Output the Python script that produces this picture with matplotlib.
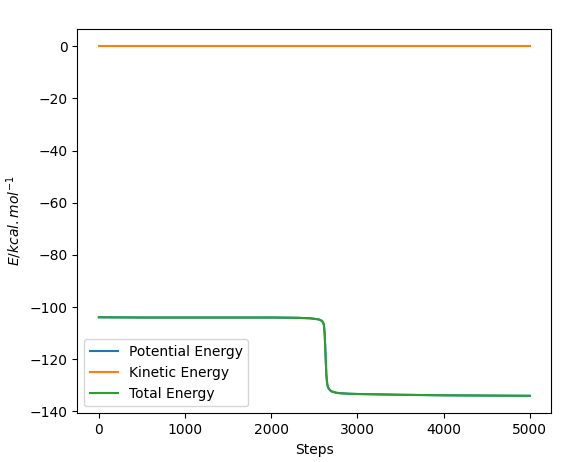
import numpy as np
import matplotlib
matplotlib.use("Agg")
import matplotlib.pyplot as plt

# values
steps = [0, 500, 1000, 1500, 2000, 2300, 2450, 2550, 2590, 2610, 2620,
         2630, 2640, 2650, 2660, 2680, 2700, 2750, 2800, 2900, 3000,
         3500, 4000, 4500, 5000]
potential = [-103.9, -104.0, -104.0, -104.0, -104.0, -104.1, -104.3, -104.7,
             -105.3, -106.5, -110.0, -118.0, -126.0, -129.5, -130.8, -131.8,
             -132.3, -132.8, -133.0, -133.2, -133.3, -133.6, -133.8, -133.9,
             -134.0]
kinetic = [0.0] * len(steps)
total = list(np.array(potential) + np.array(kinetic))

fig = plt.figure(figsize=(5.84, 4.62), dpi=100)
ax = fig.add_axes([0.1324, 0.1054, 0.8116, 0.8326])

ax.plot(steps, potential, label='Potential Energy')
ax.plot(steps, kinetic, label='Kinetic Energy')
ax.plot(steps, total, label='Total Energy')

ax.set_xlabel('Steps')
ax.set_ylabel(r'$E/kcal.mol^{-1}$')
ax.legend()

fig.savefig('out.png', dpi=100)
